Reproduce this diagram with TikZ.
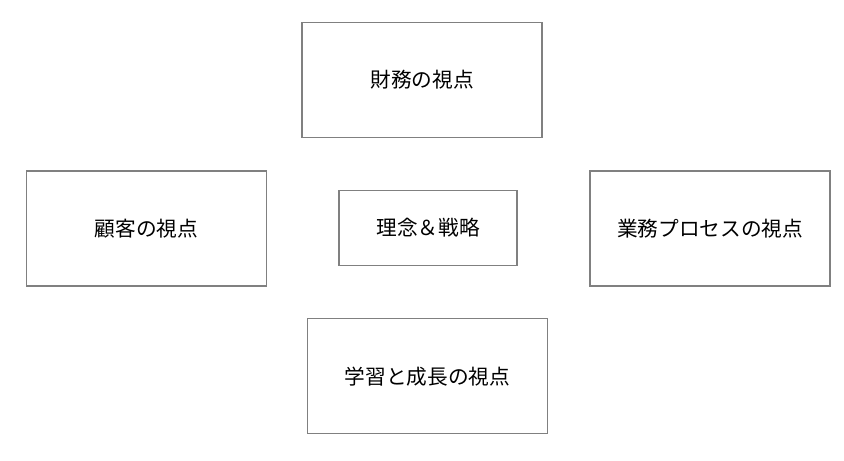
\documentclass[tikz,border=0pt]{standalone}
\usepackage{fontspec}
\setmainfont{Noto Sans CJK JP}
\usepackage{tikz}
\definecolor{boxline}{RGB}{128,128,128}
\tikzstyle{view}=[draw=boxline, line width=0.9pt, fill=white, inner sep=0pt, minimum width=180pt, minimum height=86.25pt, font=\fontsize{15.5}{18}\selectfont]
\tikzstyle{core}=[view, minimum width=133.5pt, minimum height=56.25pt]

\begin{document}
\begin{tikzpicture}[x=0.75pt, y=-0.75pt]
        \useasboundingbox (0, 0) rectangle (844, 461);
        \node[view] (finance) at (422, 80) {財務の視点};
        \node[view] (customer) at (146.5, 228.5) {顧客の視点};
        \node[core] (vision) at (428, 228) {理念＆戦略};
        \node[view] (process) at (710, 228.5) {業務プロセスの視点};
        \node[view] (learning) at (427.5, 376.3) {学習と成長の視点};
    \end{tikzpicture}
\end{document}
